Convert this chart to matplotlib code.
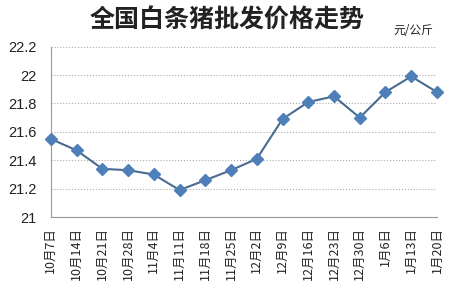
import matplotlib
matplotlib.use("Agg")
import matplotlib.pyplot as plt

plt.rcParams['font.family'] = ['Noto Sans CJK SC', 'DejaVu Sans']

# data
dates = ['10月7日', '10月14日', '10月21日', '10月28日', '11月4日', '11月11日',
         '11月18日', '11月25日', '12月2日', '12月9日', '12月16日', '12月23日',
         '12月30日', '1月6日', '1月13日', '1月20日']
prices = [21.55, 21.47, 21.34, 21.33, 21.30, 21.19, 21.26, 21.33,
          21.41, 21.69, 21.81, 21.85, 21.70, 21.88, 21.99, 21.88]
yticks = [21, 21.2, 21.4, 21.6, 21.8, 22, 22.2]
ytick_labels = ['21', '21.2', '21.4', '21.6', '21.8', '22', '22.2']

fig = plt.figure(figsize=(4.5, 2.95), dpi=100)
ax = fig.add_axes([0.113, 0.264, 0.858, 0.578])

x = list(range(len(dates)))
ax.plot(x, prices, color='#4a6a92', lw=1.5, marker='D', markersize=6,
        markerfacecolor='#4f7fb9', markeredgecolor='#4f7fb9', zorder=3, clip_on=False)

ax.set_xlim(0, len(dates) - 1)
ax.set_ylim(21, 22.2)
ax.set_yticks(yticks)
ax.set_yticklabels(ytick_labels, fontsize=10.5, family=['Liberation Sans'])
ax.set_xticks(x)
ax.set_xticklabels(dates, rotation=90, fontsize=9)
ax.tick_params(axis='y', length=0, pad=10, colors='#222222')
ax.tick_params(axis='x', length=0, pad=7, colors='#222222')

ax.grid(axis='y', linestyle=':', color='#aaaaaa', lw=0.8)
for s in ['top', 'right']:
    ax.spines[s].set_visible(False)
for s in ['left', 'bottom']:
    ax.spines[s].set_color('#999999')

fig.text(0.505, 0.93, '全国白条猪批发价格走势', ha='center', va='center',
         fontsize=18, fontweight='bold', color='#222222')
fig.text(0.918, 0.897, '元/公斤', ha='center', va='center', fontsize=8.5, color='#222222')

fig.savefig('out.png', dpi=100)
